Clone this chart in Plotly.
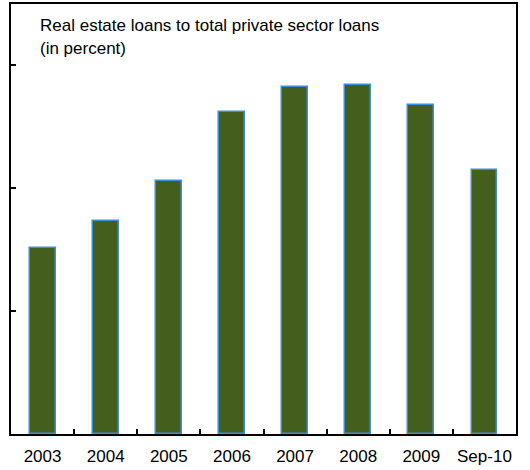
import plotly.graph_objects as go

categories = ["2003", "2004", "2005", "2006", "2007", "2008", "2009", "Sep-10"]
values = [15.1, 17.3, 20.6, 26.25, 28.25, 28.4, 26.8, 21.45]
y_ticks = [10, 20, 30]

W, H = 530, 470
L, R, T, B = 11, 14, 4, 36
plot_h = H - T - B

fig = go.Figure()
fig.add_trace(go.Bar(
    x=categories, y=values, width=0.41,
    marker=dict(color="#445E1E", line=dict(color="#3B8FD6", width=1.5)),
))

def py(px):
    return (H - B - px) / plot_h

for txt, yy in [("Real estate loans to total private sector loans", 26), ("(in percent)", 48)]:
    fig.add_annotation(text=txt,
                       xref="paper", yref="paper", x=(38 - L) / (W - L - R), y=py(yy),
                       xanchor="left", yanchor="middle", showarrow=False,
                       font=dict(family="Liberation Sans, Arial", size=17, color="#000"))

fig.update_layout(
    width=W, height=H,
    margin=dict(l=L, r=R, t=T, b=B, autoexpand=False),
    paper_bgcolor="white", plot_bgcolor="white",
    showlegend=False,
    bargap=0,
    font=dict(family="Liberation Sans, Arial", size=17, color="#000"),
)
fig.update_xaxes(
    showline=True, linecolor="#000", linewidth=2, mirror=True,
    ticks="inside", tickson="boundaries", ticklen=5, tickcolor="#000", tickwidth=2,
    showgrid=False, tickfont=dict(size=17), tickangle=0, automargin=False,
    ticklabelstandoff=6,
)
fig.update_yaxes(
    range=[0, 35], showline=True, linecolor="#000", linewidth=2, mirror=True,
    ticks="inside", tickvals=y_ticks, ticklen=5, tickcolor="#000", tickwidth=2,
    showticklabels=False, showgrid=False, zeroline=False, automargin=False,
)

fig.write_html("out.html", config={"displayModeBar": False},
               post_script="document.body.style.margin='0';")
